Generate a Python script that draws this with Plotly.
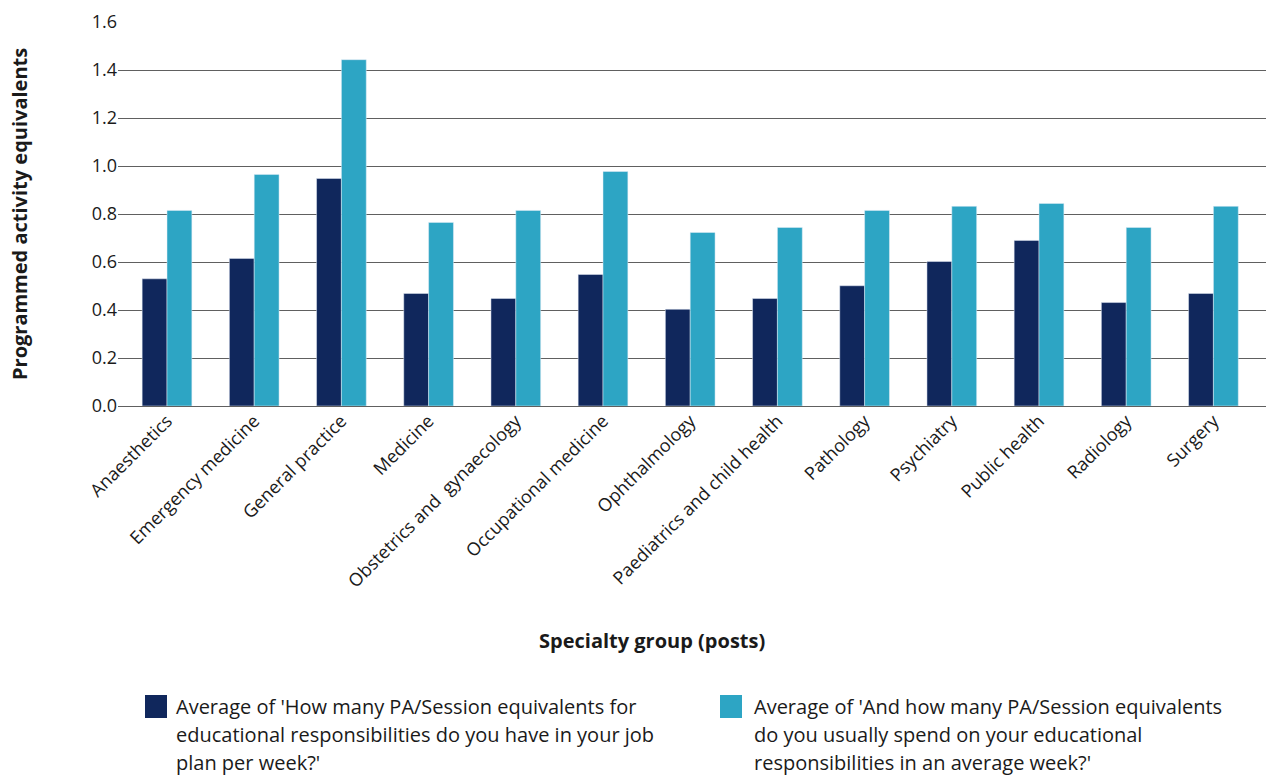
import plotly.graph_objects as go

# Specialty groups and the two survey averages (PA/session equivalents per week)
specialties = [
    "Anaesthetics", "Emergency medicine", "General practice", "Medicine",
    "Obstetrics and  gynaecology", "Occupational medicine", "Ophthalmology",
    "Paediatrics and child health", "Pathology", "Psychiatry", "Public health",
    "Radiology", "Surgery",
]
job_plan = [0.53, 0.615, 0.948, 0.469, 0.448, 0.548, 0.403, 0.448, 0.501, 0.602, 0.69, 0.431, 0.469]
actual_spend = [0.815, 0.965, 1.443, 0.765, 0.815, 0.977, 0.723, 0.744, 0.815, 0.832, 0.844, 0.744, 0.832]

y_ticks = [0.0, 0.2, 0.4, 0.6, 0.8, 1.0, 1.2, 1.4, 1.6]

legend_job_plan = [
    "Average of 'How many PA/Session equivalents for",
    "educational responsibilities do you have in your job",
    "plan per week?'",
]
legend_actual = [
    "Average of 'And how many PA/Session equivalents",
    "do you usually spend on your educational",
    "responsibilities in an average week?'",
]

NAVY = "#10275C"
TEAL = "#2DA5C4"
FONT = "Open Sans"
TEXT = "#1a1a1a"

W, H = 1266, 776
L, R, T, B = 118, 0, 22, 370
plot_w, plot_h = W - L - R, H - T - B


def px_x(x):
    return (x - L) / plot_w


def px_y(y):
    return (H - B - y) / plot_h


fig = go.Figure()
fig.add_trace(go.Bar(x=specialties, y=job_plan, marker_color=NAVY, name="job plan",
                     showlegend=False))
fig.add_trace(go.Bar(x=specialties, y=actual_spend, marker_color=TEAL, name="actual",
                     showlegend=False))

fig.update_layout(
    width=W, height=H,
    margin=dict(l=L, r=R, t=T, b=B),
    paper_bgcolor="white", plot_bgcolor="white",
    barmode="group", bargap=0.43, bargroupgap=0,
    font=dict(family=FONT, color=TEXT),
)
fig.update_xaxes(
    range=[-0.562, 12.603],
    tickangle=-45,
    tickfont=dict(size=18, color=TEXT, family=FONT),
    showgrid=False, showline=False, ticks="",
)
fig.update_yaxes(
    range=[0, 1.6],
    tickvals=y_ticks,
    ticktext=[f"{v:.1f}" for v in y_ticks],
    tickfont=dict(size=18, color=TEXT, family=FONT),
    showgrid=True, gridcolor="#606060", gridwidth=1,
    zeroline=True, zerolinecolor="#606060", zerolinewidth=1,
    ticks="", ticklen=0,
)

annotations = [
    dict(text="<b>Programmed activity equivalents</b>", x=px_x(19), y=0.5,
         xref="paper", yref="paper", textangle=-90, showarrow=False,
         font=dict(size=20, color=TEXT, family=FONT), xanchor="center", yanchor="middle"),
    dict(text="<b>Specialty group (posts)</b>", x=px_x(652), y=px_y(640),
         xref="paper", yref="paper", showarrow=False,
         font=dict(size=20, color=TEXT, family=FONT), xanchor="center", yanchor="middle"),
]

shapes = []
for sq_x, txt_x, color, lines in [(145, 174, NAVY, legend_job_plan),
                                  (720, 752, TEAL, legend_actual)]:
    shapes.append(dict(type="rect", xref="paper", yref="paper",
                       x0=px_x(sq_x), x1=px_x(sq_x + 22), y0=px_y(695), y1=px_y(718),
                       fillcolor=color, line=dict(width=0)))
    for i, line in enumerate(lines):
        annotations.append(dict(text=line, x=px_x(txt_x), y=px_y(706 + 28 * i),
                                xref="paper", yref="paper", showarrow=False,
                                xanchor="left", yanchor="middle",
                                font=dict(size=20, color=TEXT, family=FONT)))

fig.update_layout(annotations=annotations, shapes=shapes)

fig.write_html("out.html")
